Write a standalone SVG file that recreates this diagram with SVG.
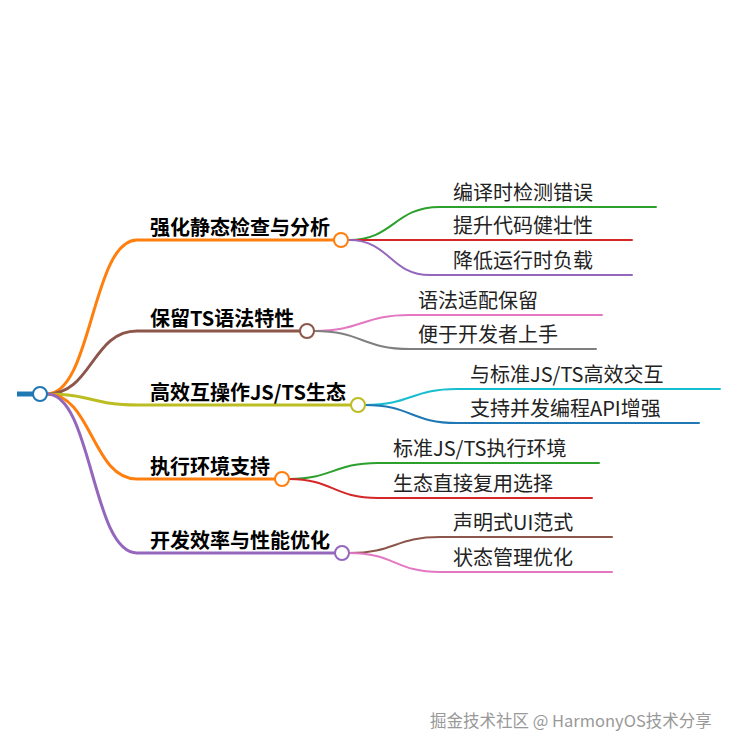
<svg xmlns="http://www.w3.org/2000/svg" width="737" height="752" viewBox="0 0 737 752">
<style>
.b{fill:none;stroke-width:3;stroke-linecap:round}
.c{fill:none;stroke-width:2;stroke-linecap:round}
.n{fill:#fff;stroke-width:2}
.t1{font-family:"Noto Sans CJK SC","Liberation Sans",sans-serif;font-size:20px;font-weight:bold;fill:#000}
.t2{font-family:"Noto Sans CJK SC","Liberation Sans",sans-serif;font-size:20px;fill:#222}
.wm{font-family:"Noto Sans CJK SC","Liberation Sans",sans-serif;font-size:16.5px;fill:#999}
</style>
<rect width="737" height="752" fill="#fff"/>
<g id="connectors">
<path class="b" d="M47,394 C92,394 92,240 137,240 H334" stroke="#ff7f0e"/>
<path class="b" d="M47,394 C92,394 92,331 137,331 H300" stroke="#8c564b"/>
<path class="b" d="M47,394 C92,394 92,405 137,405 H351" stroke="#bcbd22"/>
<path class="b" d="M47,394 C92,394 92,479 137,479 H275" stroke="#ff7f0e"/>
<path class="b" d="M47,394 C92,394 92,553 137,553 H335" stroke="#9467bd"/>
<path class="c" d="M349,240 C394,240 394,207 440,207 H656" stroke="#2ca02c"/>
<path class="c" d="M349,240 H632" stroke="#d62728"/>
<path class="c" d="M349,240 C390,240 390,275 430,275 H632" stroke="#9467bd"/>
<path class="c" d="M314,331 C362,331 362,315 410,315 H602" stroke="#e377c2"/>
<path class="c" d="M314,331 C362,331 362,349 410,349 H596" stroke="#7f7f7f"/>
<path class="c" d="M365,405 C411,405 411,389 457,389 H720" stroke="#17becf"/>
<path class="c" d="M365,405 C411,405 411,423 457,423 H699" stroke="#1f77b4"/>
<path class="c" d="M289,479 C333,479 333,463 378,463 H599" stroke="#2ca02c"/>
<path class="c" d="M289,479 C333,479 333,498 378,498 H592" stroke="#d62728"/>
<path class="c" d="M349,553 C395,553 395,537 440,537 H612" stroke="#8c564b"/>
<path class="c" d="M349,553 C395,553 395,572 440,572 H612" stroke="#e377c2"/>
<path d="M17,394 H33" stroke="#1f77b4" stroke-width="5"/>
</g>
<g id="root"><circle class="n" cx="40" cy="394" r="7" stroke="#1f77b4"/></g>
<g id="n1"><circle class="n" cx="341" cy="240" r="7" stroke="#ff7f0e"/><text class="t1" x="150" y="235">强化静态检查与分析</text></g>
<g id="n2"><circle class="n" cx="307" cy="331" r="7" stroke="#8c564b"/><text class="t1" x="150" y="326">保留TS语法特性</text></g>
<g id="n3"><circle class="n" cx="358" cy="405" r="7" stroke="#bcbd22"/><text class="t1" x="150" y="400">高效互操作JS/TS生态</text></g>
<g id="n4"><circle class="n" cx="282" cy="479" r="7" stroke="#ff7f0e"/><text class="t1" x="150" y="474">执行环境支持</text></g>
<g id="n5"><circle class="n" cx="342" cy="553" r="7" stroke="#9467bd"/><text class="t1" x="150" y="548">开发效率与性能优化</text></g>
<g id="n1a"><text class="t2" x="453" y="200">编译时检测错误</text></g>
<g id="n1b"><text class="t2" x="453" y="233">提升代码健壮性</text></g>
<g id="n1c"><text class="t2" x="453" y="268">降低运行时负载</text></g>
<g id="n2a"><text class="t2" x="418" y="308">语法适配保留</text></g>
<g id="n2b"><text class="t2" x="418" y="342">便于开发者上手</text></g>
<g id="n3a"><text class="t2" x="470" y="382">与标准JS/TS高效交互</text></g>
<g id="n3b"><text class="t2" x="470" y="416">支持并发编程API增强</text></g>
<g id="n4a"><text class="t2" x="393" y="456">标准JS/TS执行环境</text></g>
<g id="n4b"><text class="t2" x="393" y="491">生态直接复用选择</text></g>
<g id="n5a"><text class="t2" x="453" y="530">声明式UI范式</text></g>
<g id="n5b"><text class="t2" x="453" y="565">状态管理优化</text></g>
<text class="wm" x="430" y="727">掘金技术社区 @ HarmonyOS技术分享</text>
</svg>
